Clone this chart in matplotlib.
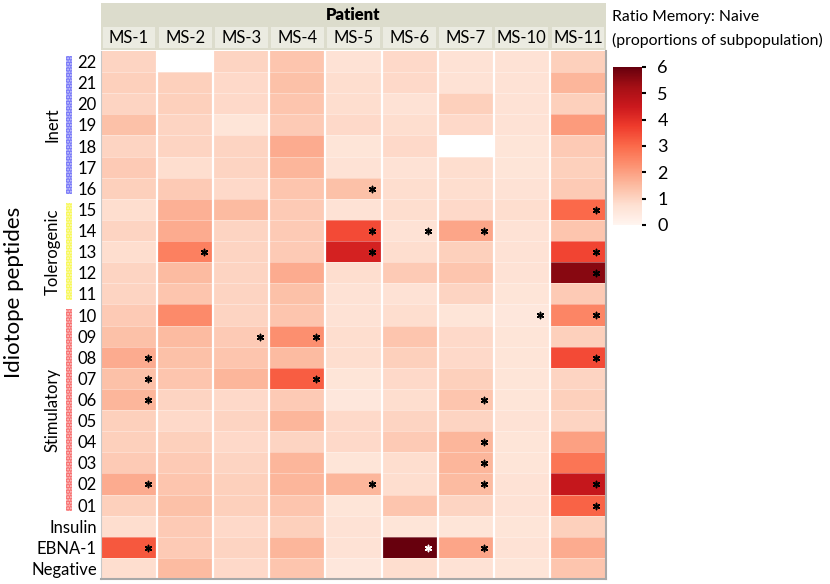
import numpy as np
import matplotlib
matplotlib.use("Agg")
import matplotlib.pyplot as plt
from matplotlib.patches import Rectangle

plt.rcParams['font.family'] = ['Lato', 'DejaVu Sans']

patients = ['MS-1', 'MS-2', 'MS-3', 'MS-4', 'MS-5', 'MS-6', 'MS-7', 'MS-10', 'MS-11']
peptides = ['22', '21', '20', '19', '18', '17', '16', '15', '14', '13', '12', '11',
            '10', '09', '08', '07', '06', '05', '04', '03', '02', '01',
            'Insulin', 'EBNA-1', 'Negative']

# ratio memory:naive, rows in the order of peptides (nan = no value)
ms1  = [1.0, 1.1, 1.0, 1.4, 1.0, 1.2, 1.1, 0.8, 1.0, 0.8, 1.0, 1.0,
        1.2, 1.4, 1.8, 1.4, 1.6, 1.1, 1.1, 1.2, 1.8, 1.1, 0.8, 3.3, 0.8]
ms2  = [np.nan, 1.1, 1.1, 1.0, 1.0, 0.8, 1.2, 1.7, 1.8, 2.6, 1.5, 1.3,
        2.4, 1.5, 1.4, 1.3, 1.0, 0.9, 1.1, 1.2, 1.3, 1.4, 1.2, 1.2, 1.5]
ms3  = [1.0, 0.9, 0.9, 0.6, 1.0, 1.0, 0.9, 1.5, 1.0, 1.0, 1.0, 1.0,
        1.0, 1.2, 1.3, 1.6, 0.9, 1.0, 0.9, 1.0, 1.1, 1.1, 0.9, 1.0, 0.9]
ms4  = [1.3, 1.4, 1.3, 1.2, 1.8, 1.6, 1.3, 1.2, 1.2, 1.2, 1.8, 1.4,
        1.3, 2.3, 1.5, 3.2, 1.2, 1.6, 1.0, 1.6, 1.6, 1.3, 1.1, 1.6, 1.3]
ms5  = [0.7, 0.8, 0.8, 0.9, 0.6, 0.7, 1.4, 0.7, 3.5, 4.3, 0.8, 0.7,
        0.7, 0.8, 0.8, 0.6, 0.5, 0.9, 0.9, 0.6, 1.6, 0.6, 0.7, 0.7, 0.5]
ms6  = [0.9, 0.9, 0.7, 0.8, 0.9, 0.7, 0.8, 0.8, 0.7, 0.8, 1.2, 0.7,
        0.8, 1.3, 1.1, 0.9, 0.8, 1.0, 1.2, 0.8, 0.8, 1.3, 0.6, 6.0, 0.8]
ms7  = [0.7, 0.7, 1.1, 0.9, np.nan, 0.8, 0.8, 0.9, 1.9, 1.1, 1.3, 1.0,
        0.6, 0.9, 0.9, 1.1, 1.3, 1.0, 1.6, 1.6, 1.5, 1.0, 0.6, 1.9, 0.7]
ms10 = [0.7, 0.7, 0.7, 0.7, 0.6, 0.6, 0.7, 0.8, 0.7, 0.7, 0.7, 0.6,
        0.5, 0.6, 0.6, 0.6, 0.6, 0.7, 0.6, 0.6, 0.7, 0.7, 0.6, 0.7, 0.6]
ms11 = [1.1, 1.6, 1.1, 2.1, 1.2, 1.1, 1.2, 3.0, 1.3, 3.6, 5.6, 1.2,
        2.5, 1.1, 3.5, 1.0, 1.1, 1.0, 2.0, 2.8, 4.6, 3.1, 1.1, 1.8, 1.3]

# significant cells (asterisks)
sig1  = ['08', '07', '06', '02', 'EBNA-1']
sig2  = ['13']
sig3  = ['09']
sig4  = ['09', '07']
sig5  = ['16', '14', '13', '02']
sig6  = ['14', 'EBNA-1']
sig7  = ['14', '06', '04', '03', '02', 'EBNA-1']
sig10 = ['10']
sig11 = ['15', '13', '12', '10', '08', '02', '01']

groups = ['Inert', 'Tolerogenic', 'Stimulatory']
group_rows = [('22', '16'), ('15', '11'), ('10', '01')]
group_colors = ['#7878f8', '#f8f858', '#f87070']

data = np.array([ms1, ms2, ms3, ms4, ms5, ms6, ms7, ms10, ms11]).T
sigs = [sig1, sig2, sig3, sig4, sig5, sig6, sig7, sig10, sig11]

W, H = 830, 584
fig = plt.figure(figsize=(W / 100, H / 100), dpi=100)

def box(x0, y0, x1, y1):
    # pixel box (top-left origin) -> figure fraction
    return [x0 / W, 1 - y1 / H, (x1 - x0) / W, (y1 - y0) / H]

ax = fig.add_axes(box(101, 51, 606, 579))
cmap = plt.cm.Reds.copy()
cmap.set_bad('white')
mesh = ax.pcolormesh(np.ma.masked_invalid(data), cmap=cmap, vmin=0, vmax=6)
ax.set_xlim(0, len(patients))
ax.set_ylim(len(peptides), 0)
for j in range(1, len(patients)):
    ax.axvline(j, color='white', lw=1.6)
for i in range(1, len(peptides)):
    ax.axhline(i, color='white', lw=0.4, alpha=0.6)

# asterisks
for j, s in enumerate(sigs):
    for lab in s:
        i = peptides.index(lab)
        col = 'white' if data[i, j] > 5.9 else 'black'
        ax.scatter(j + 0.83, i + 0.52, marker=(6, 2, 0), s=20, color=col, lw=1.1)

ax.set_xticks([])
ax.set_yticks(np.arange(len(peptides)) + 0.5)
ax.set_yticklabels(peptides, fontsize=12)
ax.tick_params(axis='y', length=0, pad=3)
ax.spines['top'].set_visible(False)
ax.spines['left'].set_color('#c8c8c8')
ax.spines['right'].set_color('#a8a8a8')
ax.spines['bottom'].set_color('#a8a8a8')
ax.spines['right'].set_linewidth(1.5)
ax.spines['bottom'].set_linewidth(1.5)

# header bands
hdr = fig.add_axes(box(101, 3, 606, 50))
hdr.set_xlim(0, len(patients))
hdr.set_ylim(0, 1)
hdr.axis('off')
hdr.add_patch(Rectangle((0, 0), len(patients), 1, color='#dcdccc', lw=0))
for j, p in enumerate(patients):
    hdr.add_patch(Rectangle((j + 0.03, 0.04), 0.94, 0.44, color='#ebebe1', lw=0))
    hdr.text(j + 0.5, 0.26, p, ha='center', va='center', fontsize=12)
hdr.text(len(patients) / 2, 0.75, 'Patient', ha='center', va='center',
         fontsize=12, fontweight='heavy')

# group bars on the left
for g, (r0, r1), c in zip(groups, group_rows, group_colors):
    i0 = peptides.index(r0)
    i1 = peptides.index(r1) + 1
    ax.add_patch(Rectangle((-0.62, i0 + 0.22), 0.11, i1 - i0 - 0.44, facecolor=c,
                           edgecolor='#ffffffa0', hatch='......', lw=0, clip_on=False))
    ax.text(-0.86, (i0 + i1) / 2, g, rotation=90, ha='center', va='center',
            fontsize=12)
fig.text(14 / W, 1 - 292 / H, 'Idiotope peptides', rotation=90, ha='center',
         va='center', fontsize=16)

# colorbar
cax = fig.add_axes(box(613, 67, 642, 225))
cb = fig.colorbar(mesh, cax=cax, ticks=[0, 1, 2, 3, 4, 5, 6])
cb.outline.set_visible(False)
cax.axhline(6, color='#67000d', lw=2)
cax.tick_params(length=3, width=1.5, pad=8, labelsize=13)
for t, v in zip(cax.yaxis.get_major_ticks(), range(7)):
    t.tick2line.set_color(cmap(v / 6) if 0 < v < 6 else 'none')
fig.text(612 / W, 1 - 17 / H, 'Ratio Memory: Naive', ha='left', va='center',
         fontsize=11.3)
fig.text(612 / W, 1 - 40 / H, '(proportions of subpopulation)', ha='left',
         va='center', fontsize=11.3)

fig.savefig('out.png', dpi=100)
